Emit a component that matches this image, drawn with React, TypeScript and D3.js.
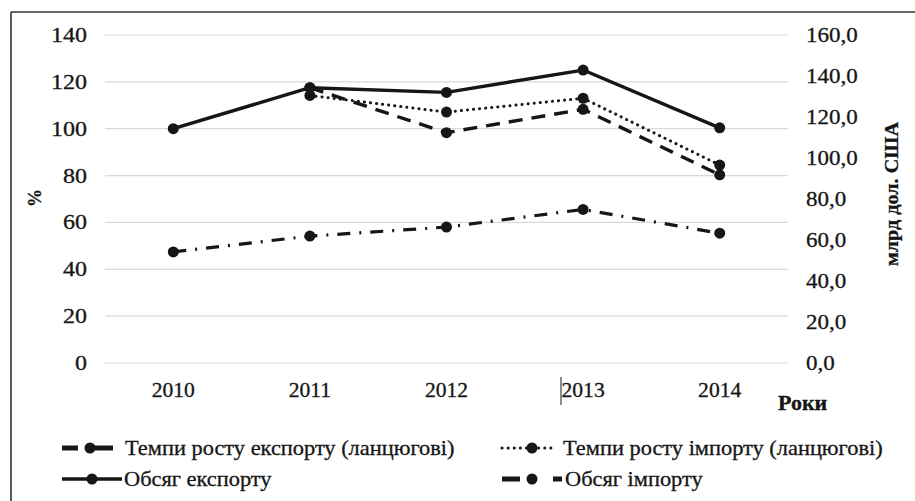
import React from "react";
import * as d3 from "d3";

const years = ["2010", "2011", "2012", "2013", "2014"];
// chain growth rates, % (left axis)
const exportGrowth: (number | null)[] = [null, 117.5, 98.3, 108.3, 80.3];
const importGrowth: (number | null)[] = [null, 114.2, 107.1, 113.0, 84.5];
// volumes, bn USD (right axis)
const exportVolume = [114.3, 134.3, 132.0, 142.9, 114.7];
const importVolume = [54.2, 61.9, 66.3, 74.9, 63.3];

const leftTicks = [0, 20, 40, 60, 80, 100, 120, 140];
const rightTicks = [0, 20, 40, 60, 80, 100, 120, 140, 160];

const legendLabels = [
  "Темпи росту експорту (ланцюгові)",
  "Темпи росту імпорту (ланцюгові)",
  "Обсяг експорту",
  "Обсяг імпорту",
];

const FONT = "Liberation Serif, DejaVu Serif, serif";
const INK = "#161616";

type TProps = {
  x: number;
  y: number;
  sx?: number;
  size?: number;
  anchor?: "start" | "middle" | "end";
  bold?: boolean;
  rotate?: number;
  dy?: string;
  children: React.ReactNode;
};

function T({ x, y, sx = 1.12, size = 20, anchor = "start", bold = false, rotate = 0, dy = "0", children }: TProps) {
  return (
    <text
      transform={`translate(${x},${y}) rotate(${rotate}) scale(${sx},1)`}
      dy={dy}
      textAnchor={anchor}
      fontSize={size}
      fontWeight={bold ? "bold" : "normal"}
      style={{ fontFamily: FONT, fill: INK, stroke: INK, strokeWidth: 0.3 }}
    >
      {children}
    </text>
  );
}

export default function App() {
  const W = 915;
  const H = 501;
  const x = d3.scaleBand<string>().domain(years).range([105, 788]);
  const yL = d3.scaleLinear().domain([0, 140]).range([363, 35]);
  const yR = d3.scaleLinear().domain([0, 160]).range([363, 35]);
  const cx = (y: string) => (x(y) as number) + x.bandwidth() / 2;

  type Pt = { year: string; v: number | null };
  const mk = (vals: (number | null)[]): Pt[] => years.map((year, i) => ({ year, v: vals[i] }));

  const lineL = d3
    .line<Pt>()
    .defined((d) => d.v != null)
    .x((d) => cx(d.year))
    .y((d) => yL(d.v as number));
  const lineR = d3
    .line<Pt>()
    .defined((d) => d.v != null)
    .x((d) => cx(d.year))
    .y((d) => yR(d.v as number));

  const series = [
    { data: mk(importVolume), gen: lineR, scale: yR, dash: "13 9 2 9", width: 3.2, cap: "butt" },
    { data: mk(importGrowth), gen: lineL, scale: yL, dash: "0.1 6", width: 3, cap: "round" },
    { data: mk(exportGrowth), gen: lineL, scale: yL, dash: "14 9", width: 3.4, cap: "butt" },
    { data: mk(exportVolume), gen: lineR, scale: yR, dash: "", width: 3.4, cap: "butt" },
  ];

  const legendItems = [
    { label: legendLabels[0], x0: 62, x1: 113, mx: 90, text: 125, y: 448, dash: "16 12 23", cap: "butt", width: 5 },
    { label: legendLabels[1], x0: 502, x1: 552, mx: 532, text: 563, y: 448, dash: "0.1 6", cap: "round", width: 3 },
    { label: legendLabels[2], x0: 62, x1: 122, mx: 92, text: 124, y: 479, dash: "", cap: "butt", width: 3.4 },
    { label: legendLabels[3], x0: 502, x1: 562, mx: 532, text: 565, y: 479, dash: "18 33 9", cap: "butt", width: 5 },
  ];

  return (
    <svg width={W} height={H} style={{ position: "absolute", left: 0, top: 0, background: "#fff" }}>
      <rect x={0} y={0} width={W} height={H} fill="#fff" />
      {/* frame */}
      <line x1={11} x2={W} y1={12} y2={12} stroke="#333" strokeWidth={1.6} />
      <line x1={11} x2={11} y1={12} y2={H} stroke="#333" strokeWidth={1.6} />

      {/* gridlines */}
      {leftTicks.map((t) => (
        <line key={t} x1={105} x2={788} y1={yL(t)} y2={yL(t)} stroke="#d9d9d9" strokeWidth={1.2} />
      ))}

      {/* left tick labels */}
      {leftTicks.map((t) => (
        <T key={t} x={87} y={yL(t)} dy="0.35em" anchor="end" sx={1.2}>
          {t}
        </T>
      ))}
      {/* right tick labels */}
      {rightTicks.map((t) => (
        <T key={t} x={806} y={yR(t)} dy="0.35em" sx={1.15}>
          {d3.format(".1f")(t).replace(".", ",")}
        </T>
      ))}
      {/* x labels */}
      {years.map((y) => (
        <T key={y} x={cx(y)} y={397} anchor="middle" sx={1.08}>
          {y}
        </T>
      ))}
      <line x1={561} x2={561} y1={377} y2={405} stroke={INK} strokeWidth={1} />

      {/* axis titles */}
      <T x={41} y={198} rotate={-90} anchor="middle" size={18} bold sx={1}>
        %
      </T>
      <T x={898} y={194} rotate={-90} anchor="middle" size={18} bold sx={1.12}>
        млрд дол. США
      </T>
      <T x={778} y={410} size={20} bold sx={1.1}>
        Роки
      </T>

      {/* series */}
      {series.map((s, i) => (
        <g key={i}>
          <path
            d={s.gen(s.data) || ""}
            fill="none"
            stroke={INK}
            strokeWidth={s.width}
            strokeDasharray={s.dash || undefined}
            strokeLinecap={s.cap as any}
            strokeLinejoin="round"
          />
          {s.data
            .filter((d) => d.v != null)
            .map((d) => (
              <circle key={d.year} cx={cx(d.year)} cy={s.scale(d.v as number)} r={5.5} fill={INK} />
            ))}
        </g>
      ))}

      {/* legend */}
      {legendItems.map((l, i) => (
        <g key={i}>
          <line
            x1={l.x0}
            x2={l.x1}
            y1={l.y}
            y2={l.y}
            stroke={INK}
            strokeWidth={l.width}
            strokeDasharray={l.dash || undefined}
            strokeLinecap={l.cap as any}
          />
          <circle cx={l.mx} cy={l.y} r={5.5} fill={INK} />
          <T x={l.text} y={l.y} dy="0.33em" sx={1.12}>
            {l.label}
          </T>
        </g>
      ))}
    </svg>
  );
}
